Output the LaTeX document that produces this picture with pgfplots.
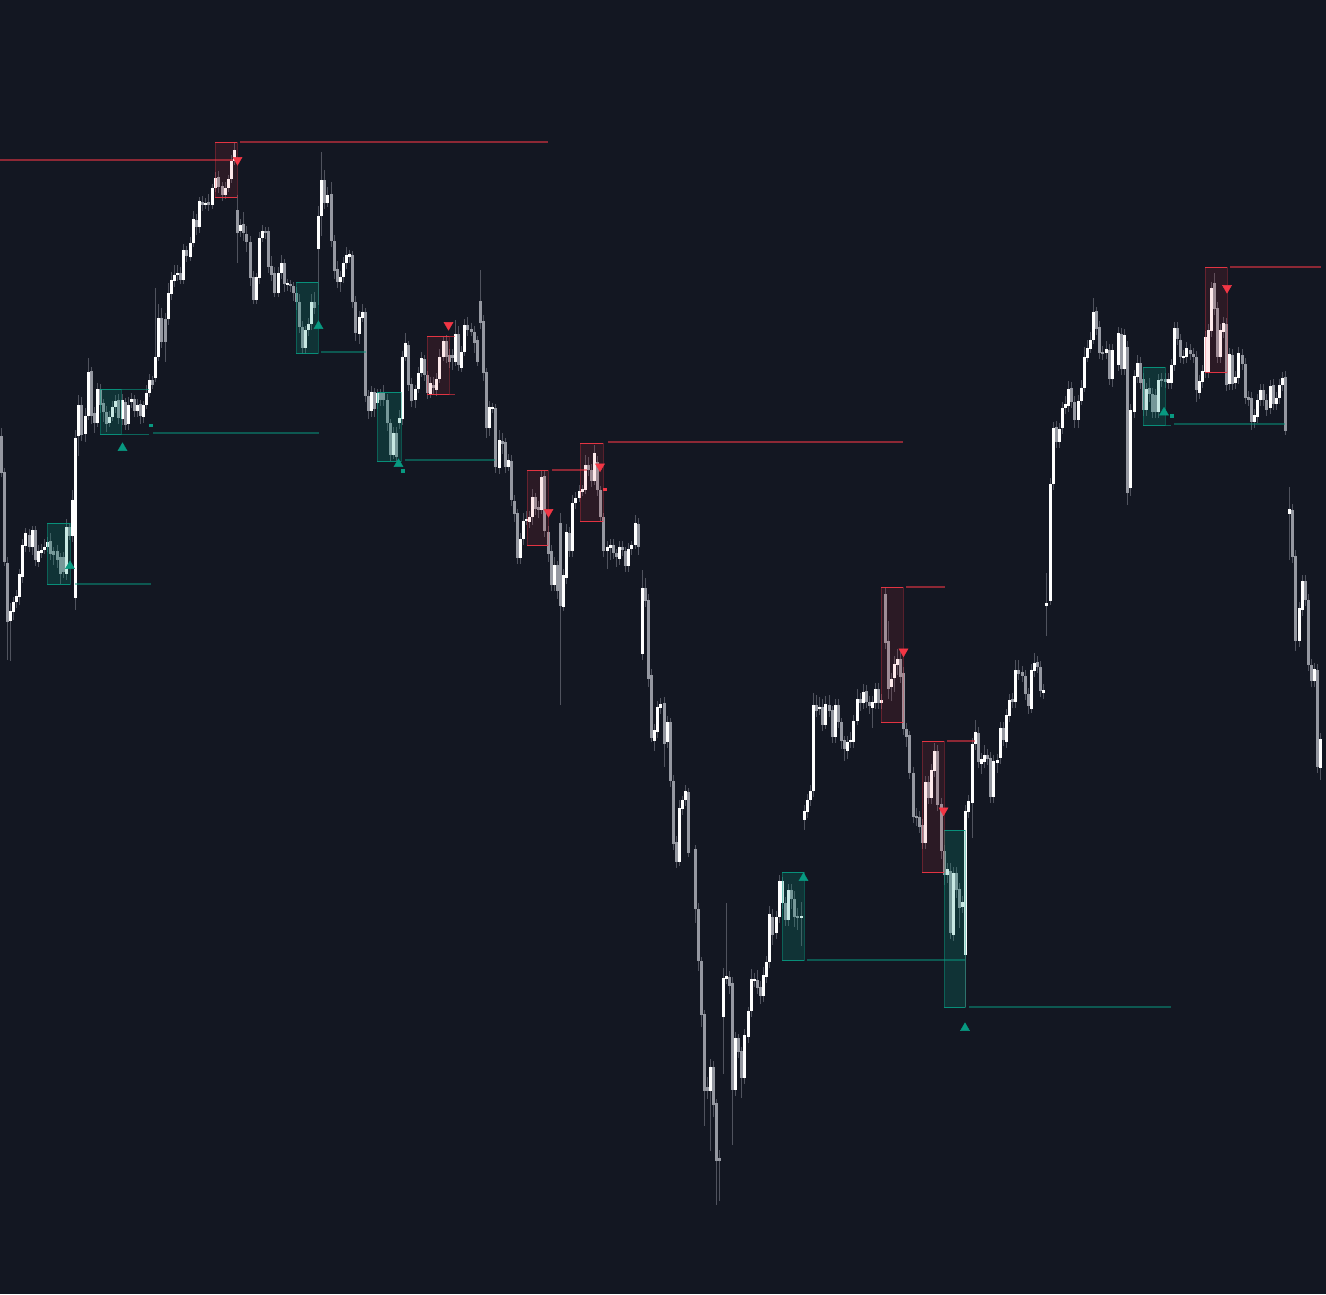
\documentclass[border=0pt]{standalone}
\usepackage{pgfplots}
\usepackage{pgfplotstable}
\pgfplotsset{compat=1.18}
\definecolor{bgc}{HTML}{131722}
\definecolor{candW}{HTML}{FFFFFF}
\definecolor{candG}{HTML}{9598A1}
\definecolor{wickc}{HTML}{50535E}
\definecolor{tvred}{HTML}{F23645}
\definecolor{tvteal}{HTML}{089981}
% columns: x, body top, body bottom (pixel y), k (1 = up/white, 0 = down/grey), upper wick length, lower wick length
\pgfplotstableread{
x t b k u d
1.5 436 473 0 8 4
4.5 472 562 0 4 4
7.5 563 622 0 6 38
10.5 611 621 1 8 40
13.5 602 612 1 5 8
16.5 596 602 1 6 6
19.5 574 597 1 5 8
22.5 545 577 1 6 6
25.5 533 546 1 5 6
29.5 535 547 0 6 5
32.5 530 547 1 4 8
35.5 530 560 0 4 6
38.5 551 562 1 6 5
41.5 550 553 1 6 5
44.5 547 550 1 8 4
47.5 542 547 1 5 5
50.5 541 554 0 8 6
53.5 551 555 0 4 10
57.5 551 560 0 6 8
60.5 557 574 0 4 10
63.5 557 572 0 5 6
66.5 527 574 1 8 6
69.5 527 536 0 4 4
72.5 500 536 1 10 6
75.5 438 598 1 8 12
78.5 405 436 1 10 20
81.5 405 435 0 8 6
85.5 416 434 1 8 8
88.5 372 416 1 14 4
91.5 371 416 0 4 8
94.5 413 423 0 6 10
97.5 389 423 1 6 4
100.5 389 405 0 5 8
103.5 403 412 0 4 10
106.5 412 424 0 6 8
109.5 417 423 1 6 4
112.5 407 417 1 6 4
115.5 401 407 1 6 6
118.5 400 418 0 6 6
122.5 400 419 1 6 6
125.5 402 425 0 4 5
128.5 405 424 1 8 6
131.5 399 402 1 6 6
134.5 399 411 0 4 6
137.5 405 411 1 6 6
140.5 404 416 0 4 8
143.5 405 417 1 4 6
146.5 393 405 1 8 4
149.5 380 393 1 6 4
152.5 380 385 0 4 4
155.5 357 378 1 69 4
158.5 318 357 1 14 4
161.5 318 342 0 10 6
165.5 319 342 0 6 20
168.5 293 319 1 10 6
171.5 280 294 1 8 6
174.5 275 281 1 10 6
177.5 273 275 1 8 6
180.5 273 280 0 6 4
183.5 250 280 1 6 4
186.5 250 256 0 4 6
190.5 243 257 1 6 4
193.5 219 243 1 8 4
196.5 220 227 0 6 8
199.5 201 227 1 4 6
202.5 202 205 0 6 6
205.5 203 204 1 5 5
208.5 202 205 0 8 6
212.5 188 205 1 4 4
215.5 178 188 1 6 4
218.5 177 187 0 6 6
222.5 186 195 0 4 6
225.5 188 195 1 6 4
228.5 179 188 1 4 4
231.5 161 179 1 6 4
234.5 150 161 1 8 4
237.5 210 233 0 15 30
240.5 225 231 1 6 6
243.5 224 233 0 12 8
246.5 234 242 0 8 10
250.5 242 278 0 6 8
253.5 277 300 0 6 4
256.5 277 300 1 4 4
259.5 238 278 1 6 6
262.5 231 238 1 6 4
265.5 231 233 0 4 6
268.5 231 267 0 4 6
271.5 266 275 0 10 6
274.5 273 293 0 6 4
278.5 273 293 1 6 4
281.5 263 273 1 8 6
284.5 263 284 0 4 8
287.5 283 285 1 4 6
290.5 284 286 0 4 6
293.5 286 293 0 4 8
296.5 293 302 0 6 8
299.5 302 327 0 8 6
302.5 327 348 0 6 6
305.5 330 348 1 4 6
308.5 324 330 1 6 6
311.5 302 324 1 8 6
314.5 302 308 0 10 6
318.5 216 249 1 10 56
321.5 180 216 1 28 20
324.5 180 203 0 10 6
327.5 195 203 1 8 4
331.5 194 241 0 12 6
334.5 241 271 0 6 8
337.5 269 282 0 8 6
340.5 277 282 1 6 10
343.5 263 277 1 6 6
346.5 255 263 1 8 6
349.5 254 257 1 4 6
352.5 255 302 0 4 6
355.5 302 333 0 6 8
359.5 317 334 1 6 10
362.5 312 318 1 8 4
365.5 312 396 0 4 6
368.5 396 411 0 6 8
371.5 392 411 1 6 6
374.5 392 409 0 4 8
377.5 393 403 1 4 6
380.5 393 400 0 4 6
383.5 393 400 0 8 6
387.5 400 423 0 6 8
390.5 423 455 0 4 6
393.5 433 455 1 6 4
396.5 433 457 0 6 4
399.5 418 423 1 8 6
402.5 357 419 1 6 6
405.5 343 357 1 10 4
408.5 345 385 0 4 6
411.5 384 401 0 6 6
415.5 389 400 1 4 8
418.5 373 389 1 6 4
421.5 358 373 1 6 4
424.5 359 375 0 4 6
427.5 375 393 0 4 6
430.5 383 394 1 6 4
433.5 385 388 0 8 6
436.5 379 390 1 6 6
439.5 357 379 1 8 4
443.5 341 357 1 4 4
446.5 341 357 0 6 6
449.5 355 362 0 6 6
452.5 355 358 0 6 12
455.5 334 362 1 14 4
458.5 334 365 0 8 6
461.5 352 368 1 6 4
464.5 325 352 1 6 4
467.5 325 330 0 8 6
471.5 329 332 0 6 4
474.5 332 343 0 6 10
477.5 340 362 0 4 4
480.5 301 323 0 31 6
483.5 321 373 0 6 8
486.5 372 428 0 4 10
489.5 407 428 1 6 8
492.5 407 409 1 4 4
495.5 408 467 0 4 6
499.5 440 468 1 10 6
502.5 441 444 0 8 10
505.5 442 467 0 4 6
508.5 460 467 1 6 4
511.5 461 500 0 6 6
514.5 501 514 0 6 8
517.5 513 558 0 4 6
520.5 539 558 1 6 6
523.5 521 539 1 8 6
526.5 519 521 1 8 4
529.5 517 522 1 6 6
532.5 497 517 1 8 8
535.5 497 509 0 4 6
538.5 507 510 0 6 8
541.5 477 510 1 6 4
544.5 476 531 0 6 6
548.5 532 554 0 6 8
551.5 551 585 0 6 6
554.5 565 585 1 8 6
557.5 565 591 0 4 8
560.5 523 606 0 10 99
563.5 575 607 1 6 4
566.5 532 578 1 8 6
569.5 533 551 0 6 6
572.5 503 551 1 8 6
575.5 498 503 1 6 6
579.5 491 498 1 6 4
582.5 489 492 1 4 4
585.5 465 490 1 10 4
588.5 465 470 0 8 6
591.5 470 481 0 6 6
594.5 453 481 1 8 4
597.5 462 490 0 6 6
600.5 490 517 0 4 4
603.5 517 551 0 4 6
607.5 547 551 1 6 18
610.5 545 548 1 6 12
613.5 545 553 0 6 6
616.5 553 557 0 4 10
619.5 547 559 1 6 6
622.5 547 550 0 6 6
625.5 551 566 0 4 6
628.5 549 566 1 6 6
631.5 545 549 1 4 6
635.5 523 545 1 8 4
638.5 524 547 0 6 8
642.5 588 654 1 18 6
645.5 588 601 0 10 6
648.5 600 679 0 6 8
651.5 675 738 0 6 4
654.5 730 741 1 6 10
657.5 707 732 1 6 6
660.5 704 708 1 6 6
664.5 703 744 0 6 23
667.5 722 742 1 6 6
670.5 722 781 0 4 6
673.5 781 844 0 6 6
676.5 842 862 0 6 6
679.5 808 862 1 8 4
682.5 800 809 1 4 6
685.5 791 800 1 6 6
688.5 792 853 0 4 4
695.5 849 909 0 4 14
698.5 909 961 0 6 10
701.5 961 1015 0 4 12
704.5 1014 1091 0 4 35
707.5 1087 1091 0 10 8
710.5 1067 1091 1 8 60
713.5 1067 1105 0 6 12
716.5 1103 1161 0 4 44
719.5 1158 1161 0 8 40
723.5 978 1017 1 10 57
726.5 976 979 1 73 5
729.5 977 986 0 6 8
732.5 983 1090 0 6 55
735.5 1038 1090 1 6 6
738.5 1038 1052 0 4 6
741.5 1051 1078 0 4 20
744.5 1035 1078 1 6 6
748.5 1011 1037 1 4 6
751.5 979 1011 1 10 6
754.5 979 981 1 6 6
757.5 980 988 0 10 6
760.5 987 996 0 6 8
763.5 975 996 1 8 6
766.5 962 977 1 6 6
769.5 914 962 1 8 6
772.5 917 935 0 8 10
776.5 917 933 1 6 6
779.5 881 917 1 6 6
782.5 881 903 1 4 6
785.5 903 920 0 6 6
788.5 890 920 1 6 6
791.5 890 899 0 6 10
794.5 899 917 0 8 10
797.5 916 918 0 8 12
801.5 916 918 1 14 28
804.5 811 820 1 6 10
807.5 800 812 1 6 6
810.5 791 800 1 6 6
813.5 705 791 1 12 6
816.5 705 711 0 10 6
819.5 707 709 1 10 6
822.5 707 725 0 8 6
825.5 704 725 1 8 4
829.5 705 711 0 10 6
832.5 710 737 0 4 6
835.5 705 737 1 6 6
838.5 705 722 0 6 6
841.5 722 741 0 4 8
844.5 740 749 0 4 12
847.5 742 751 1 6 8
850.5 740 742 1 8 6
853.5 721 742 1 6 6
857.5 699 721 1 10 4
860.5 699 703 0 6 8
863.5 692 703 1 8 6
866.5 691 702 0 6 6
869.5 702 706 0 6 8
872.5 702 708 1 6 20
875.5 689 703 1 6 6
878.5 689 703 0 6 6
881.5 700 703 1 6 6
885.5 594 643 0 7 6
888.5 641 689 0 20 10
891.5 679 687 1 6 14
894.5 664 678 1 8 14
897.5 659 665 1 10 10
900.5 659 677 0 8 6
903.5 673 729 0 6 6
906.5 729 737 0 6 10
909.5 735 773 0 4 6
913.5 773 817 0 6 6
916.5 816 818 0 8 8
919.5 817 827 0 6 6
922.5 825 843 0 6 6
925.5 782 843 1 6 6
928.5 782 798 0 6 6
931.5 770 798 1 6 6
934.5 751 771 1 8 6
937.5 751 805 0 6 6
941.5 804 851 0 6 8
944.5 851 875 0 6 10
947.5 869 875 1 6 8
950.5 871 933 0 8 6
953.5 873 935 1 6 6
956.5 873 890 0 6 8
959.5 889 908 0 6 20
962.5 902 907 1 6 6
965.5 811 955 1 6 52
968.5 801 812 1 6 6
972.5 744 803 1 6 35
975.5 732 744 1 12 6
978.5 733 762 0 6 6
981.5 759 764 1 6 10
984.5 755 762 1 10 6
987.5 755 759 0 6 6
990.5 758 797 0 6 6
993.5 761 797 1 6 6
997.5 760 763 1 6 10
1000.5 728 758 1 6 6
1003.5 728 740 0 6 6
1006.5 715 742 1 6 6
1009.5 700 716 1 6 6
1012.5 699 702 0 6 6
1015.5 670 702 1 10 6
1018.5 670 674 0 10 6
1022.5 672 676 0 6 6
1025.5 676 694 0 6 6
1028.5 694 706 0 6 8
1031.5 670 709 1 6 4
1034.5 663 671 1 10 6
1037.5 662 667 0 6 6
1040.5 667 691 0 6 6
1043.5 690 693 1 6 6
1046.5 603 606 1 30 30
1050.5 484 601 1 6 4
1053.5 428 484 1 6 6
1056.5 427 442 0 6 6
1059.5 429 442 1 6 6
1062.5 408 428 1 6 6
1065.5 404 408 1 8 6
1068.5 389 406 1 8 6
1071.5 388 402 0 6 6
1074.5 402 420 0 6 8
1078.5 401 420 1 6 8
1081.5 388 401 1 8 4
1084.5 357 388 1 10 4
1087.5 348 358 1 8 4
1090.5 340 349 1 8 4
1093.5 312 340 1 14 4
1096.5 311 329 0 4 6
1099.5 327 353 0 6 6
1102.5 352 354 0 6 6
1106.5 349 353 1 8 6
1109.5 350 379 0 6 6
1112.5 350 379 1 6 8
1118.5 333 365 1 6 6
1121.5 334 369 0 6 6
1124.5 335 369 1 6 6
1127.5 347 493 0 6 12
1130.5 410 488 1 6 8
1134.5 376 412 1 6 6
1137.5 363 377 1 8 6
1140.5 363 383 0 6 6
1143.5 379 410 0 6 6
1146.5 389 410 1 6 6
1149.5 388 394 0 10 8
1152.5 394 412 0 6 6
1155.5 395 412 0 6 6
1158.5 380 412 1 6 6
1161.5 379 381 0 6 6
1165.5 379 382 0 6 6
1168.5 379 383 1 6 6
1171.5 365 383 1 6 6
1174.5 328 365 1 6 6
1177.5 328 339 0 6 6
1180.5 340 357 0 6 6
1183.5 356 358 1 6 6
1186.5 348 357 1 6 6
1190.5 350 354 0 6 6
1193.5 354 357 0 6 6
1196.5 357 390 0 6 12
1199.5 381 393 1 6 6
1202.5 371 382 1 6 6
1205.5 337 372 1 6 6
1208.5 330 372 1 6 6
1211.5 288 331 1 6 6
1214.5 283 309 0 10 6
1217.5 308 357 0 6 6
1220.5 330 357 1 6 6
1223.5 323 332 1 6 6
1226.5 324 385 0 6 6
1229.5 354 384 1 6 6
1232.5 355 384 0 6 6
1235.5 377 383 1 6 6
1238.5 353 378 1 6 6
1242.5 355 364 0 6 6
1245.5 364 398 0 6 6
1248.5 397 400 0 6 6
1251.5 398 422 0 6 8
1254.5 415 422 1 6 6
1257.5 400 417 1 6 6
1260.5 390 400 1 6 6
1263.5 390 400 0 6 6
1266.5 400 410 0 6 6
1270.5 386 408 1 6 6
1273.5 385 404 0 6 6
1276.5 398 404 1 6 6
1279.5 385 398 1 6 6
1282.5 378 385 1 6 6
1285.5 377 431 0 6 4
1289.5 509 514 1 22 46
1292.5 510 557 0 6 6
1295.5 556 641 0 6 10
1299.5 608 641 1 6 6
1302.5 581 610 1 6 6
1305.5 581 600 0 6 6
1308.5 600 665 0 6 6
1311.5 665 681 0 6 6
1314.5 669 681 1 6 6
1317.5 670 767 0 6 6
1320.5 739 768 1 6 12
}\candles

\newcommand{\gbox}[4]{%
  \addplot[fill=tvteal, fill opacity=0.22, draw=tvteal, draw opacity=0.45, line width=0.8bp]
    coordinates {(#1,#3) (#2,#3) (#2,#4) (#1,#4) (#1,#3)};
  \addplot[draw=tvteal, draw opacity=0.85, line width=1bp] coordinates {(#1,#3) (#2,#3)};
  \addplot[draw=tvteal, draw opacity=0.85, line width=1bp] coordinates {(#1,#4) (#2,#4)};
}
\newcommand{\rbox}[4]{%
  \addplot[fill=tvred, fill opacity=0.11, draw=tvred, draw opacity=0.3, line width=0.8bp]
    coordinates {(#1,#3) (#2,#3) (#2,#4) (#1,#4) (#1,#3)};
  \addplot[draw=tvred, draw opacity=0.9, line width=1bp] coordinates {(#1,#3) (#2,#3)};
  \addplot[draw=tvred, draw opacity=0.9, line width=1bp] coordinates {(#1,#4) (#2,#4)};
}
\newcommand{\rlevel}[3]{\addplot[draw=tvred, draw opacity=0.55, line width=1.6bp] coordinates {(#1,#3) (#2,#3)};}
\newcommand{\glevel}[3]{\addplot[draw=tvteal, draw opacity=0.5, line width=1.6bp] coordinates {(#1,#3) (#2,#3)};}

\begin{document}
\begin{tikzpicture}
\begin{axis}[
  width=1326bp, height=1294bp, scale only axis,
  xmin=0, xmax=1326, ymin=0, ymax=1294, y dir=reverse,
  ticks=none, axis line style={draw=none},
  axis background/.style={fill=bgc},
  clip=true,
]
% wicks
\addplot[draw=none, mark=none,
  error bars/.cd, y dir=both, y explicit, error mark=none,
  error bar style={line width=0.8bp, draw=wickc}]
  table[x=x, y expr={(\thisrow{t}-\thisrow{u}+\thisrow{b}+\thisrow{d})/2},
        y error expr={(\thisrow{b}+\thisrow{d}-\thisrow{t}+\thisrow{u})/2}] {\candles};
% down (grey) bodies
\addplot[draw=none, mark=none,
  restrict expr to domain={\thisrow{k}}{-0.5:0.5},
  error bars/.cd, y dir=both, y explicit, error mark=none,
  error bar style={line width=2.6bp, draw=candG}]
  table[x=x, y expr={(\thisrow{t}+\thisrow{b})/2},
        y error expr={max((\thisrow{b}-\thisrow{t})/2,0.7)}] {\candles};
% up (white) bodies
\addplot[draw=none, mark=none,
  restrict expr to domain={\thisrow{k}}{0.5:1.5},
  error bars/.cd, y dir=both, y explicit, error mark=none,
  error bar style={line width=2.6bp, draw=candW}]
  table[x=x, y expr={(\thisrow{t}+\thisrow{b})/2},
        y error expr={max((\thisrow{b}-\thisrow{t})/2,0.7)}] {\candles};

% zones
\gbox{47}{70}{523}{584}
\gbox{100}{121}{389}{434}
\addplot[draw=tvteal, draw opacity=0.6, line width=0.8bp] coordinates {(121,389) (149,389)};
\addplot[draw=tvteal, draw opacity=0.6, line width=0.8bp] coordinates {(121,434) (149,434)};
\gbox{296}{318}{282}{353}
\gbox{377}{401}{392}{461}
\gbox{782}{804}{872}{960}
\gbox{944}{965}{830}{1007}
\gbox{1143}{1165}{367}{425}
\addplot[draw=tvteal, draw opacity=0.6, line width=0.8bp] coordinates {(1165,425) (1171,425)};
\rbox{215}{237}{142}{197}
\rbox{427}{449}{336}{394}
\addplot[draw=tvred, draw opacity=0.6, line width=0.8bp] coordinates {(449,336) (455,336)};
\addplot[draw=tvred, draw opacity=0.6, line width=0.8bp] coordinates {(449,394) (455,394)};
\rbox{527}{548}{470}{545}
\rbox{580}{603}{443}{521}
\rbox{881}{903}{587}{722}
\rbox{922}{944}{741}{872}
\rbox{1205}{1227}{267}{372}

% levels
\rlevel{0}{233}{160}
\rlevel{240}{548}{142}
\rlevel{552}{587}{470}
\rlevel{608}{903}{442}
\rlevel{906}{945}{587}
\rlevel{947}{975}{741}
\rlevel{1230}{1321}{267}
\glevel{75}{151}{584}
\glevel{153}{319}{433}
\glevel{321}{366}{352}
\glevel{405}{495}{460}
\glevel{807}{965}{960}
\glevel{969}{1171}{1007}
\glevel{1174}{1285}{424}

% signals
\addplot[only marks, mark=triangle*, mark size=5.2bp, color=tvred, mark options={rotate=180}]
  coordinates {(237.5,160) (448.5,325) (548.5,512) (600,466.5) (903.5,651.5) (943.5,810.5) (1227,288)};
\addplot[only marks, mark=triangle*, mark size=5.2bp, color=tvteal]
  coordinates {(70,566) (122.5,448) (318.5,326) (398.5,464) (803.5,878) (965,1028) (1164,412.5)};
\addplot[only marks, mark=square*, mark size=1.3bp, color=tvteal]
  coordinates {(150.5,425) (402.5,470.5) (1171.5,415.5)};
\addplot[only marks, mark=square*, mark size=1.2bp, color=tvred]
  coordinates {(604.5,489)};
\end{axis}
\pgfresetboundingbox
\path[use as bounding box] (current axis.south west) rectangle (current axis.north east);
\end{tikzpicture}
\end{document}
